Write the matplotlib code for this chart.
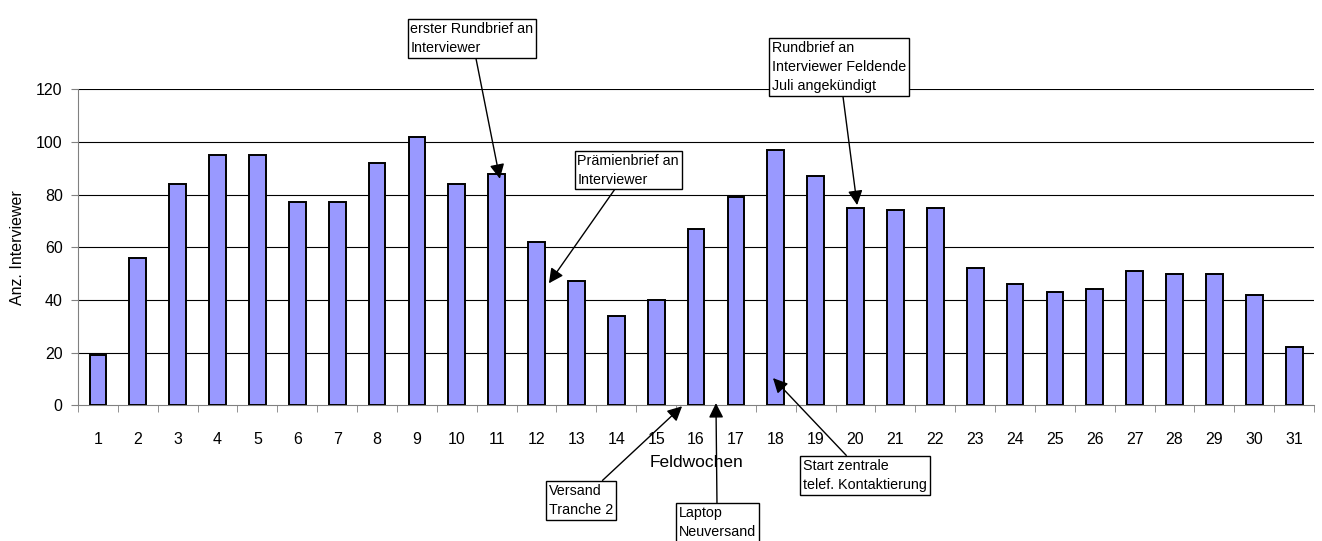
import matplotlib.pyplot as plt
import numpy as np

plt.rcParams['font.family'] = ['Liberation Sans', 'DejaVu Sans']

# Daten: Anzahl aktiver Interviewer pro Feldwoche
wochen = list(range(1, 32))
interviewer = [19, 56, 84, 95, 95, 77, 77, 92, 102, 84, 88, 62, 47, 34, 40, 67,
               79, 97, 87, 75, 74, 75, 52, 46, 43, 44, 51, 50, 50, 42, 22]

# Ereignisse: Text, Pfeilspitze (x, y), Boxmitte (x, y)
ereignisse = [
    ("erster Rundbrief an\nInterviewer", (11.08, 86), (10.38, 139.4)),
    ("Prämienbrief an\nInterviewer", (12.31, 46.3), (14.30, 89.3)),
    ("Rundbrief an\nInterviewer Feldende\nJuli angekündigt", (20.04, 76), (19.59, 128.4)),
    ("Versand\nTranche 2", (15.65, -0.4), (13.12, -36.1)),
    ("Laptop\nNeuversand", (16.50, 0.8), (16.53, -44.6)),
    ("Start zentrale\ntelef. Kontaktierung", (17.93, 10.3), (20.24, -26.6)),
]

fig = plt.figure(figsize=(13.22, 5.41), dpi=100)
ax = fig.add_axes([0.059, 0.251, 0.935, 0.584])

ax.bar(wochen, interviewer, width=0.42, color='#9999FF', edgecolor='black', linewidth=1.4, zorder=3)

ax.set_xlim(0.5, 31.5)
ax.set_ylim(0, 120)
ax.set_yticks(range(0, 121, 20))
for y in range(20, 121, 20):
    ax.axhline(y, color='black', linewidth=0.8, zorder=1)

ax.set_xticks(wochen)
ax.set_xticks(np.arange(0.5, 32, 1), minor=True)
ax.tick_params(axis='x', which='major', length=0, pad=19, labelsize=11.5)
ax.tick_params(axis='x', which='minor', length=5, color='#808080', direction='out')
ax.tick_params(axis='y', length=5, color='#808080', pad=6, labelsize=11.5)

for s in ['top', 'right']:
    ax.spines[s].set_visible(False)
ax.spines['left'].set_color('#808080')
ax.spines['bottom'].set_color('#808080')

ax.set_xlabel("Feldwochen", fontsize=12.5, labelpad=6)
ax.set_ylabel("Anz. Interviewer", fontsize=11.5, labelpad=8)

for text, spitze, box in ereignisse:
    ax.annotate(text, xy=spitze, xytext=box, ha='center', va='center',
                multialignment='left', fontsize=10.3, linespacing=1.45,
                annotation_clip=False,
                bbox=dict(boxstyle='square,pad=0.2', facecolor='white', edgecolor='black', linewidth=1),
                arrowprops=dict(arrowstyle='-|>', color='black', lw=1, mutation_scale=22,
                                shrinkA=0, shrinkB=0),
                zorder=5)

fig.savefig('out.png', dpi=100)
